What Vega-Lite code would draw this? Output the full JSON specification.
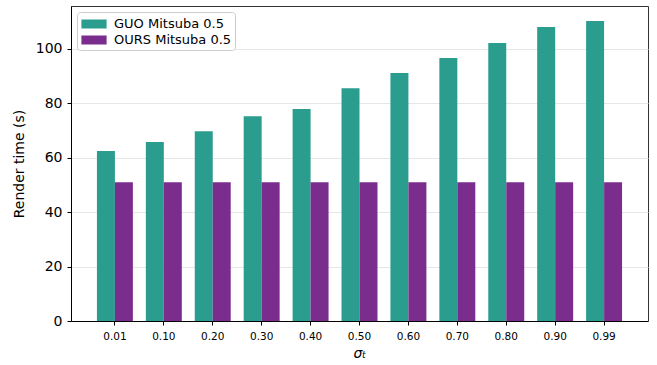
{
  "$schema": "https://vega.github.io/schema/vega-lite/v6.json",
  "autosize": "none",
  "width": 577,
  "height": 315,
  "padding": {"left": 71, "top": 6, "right": 9, "bottom": 44},
  "background": "white",
  "config": {
    "font": "DejaVu Sans",
    "view": {"stroke": "#333333", "strokeWidth": 1}
  },
  "data": {
    "values": [
      {"sigma": "0.01", "method": "GUO Mitsuba 0.5", "time": 62.5},
      {"sigma": "0.10", "method": "GUO Mitsuba 0.5", "time": 65.8},
      {"sigma": "0.20", "method": "GUO Mitsuba 0.5", "time": 69.8},
      {"sigma": "0.30", "method": "GUO Mitsuba 0.5", "time": 75.3},
      {"sigma": "0.40", "method": "GUO Mitsuba 0.5", "time": 77.9},
      {"sigma": "0.50", "method": "GUO Mitsuba 0.5", "time": 85.6},
      {"sigma": "0.60", "method": "GUO Mitsuba 0.5", "time": 91.2},
      {"sigma": "0.70", "method": "GUO Mitsuba 0.5", "time": 96.7},
      {"sigma": "0.80", "method": "GUO Mitsuba 0.5", "time": 102.2},
      {"sigma": "0.90", "method": "GUO Mitsuba 0.5", "time": 108.1},
      {"sigma": "0.99", "method": "GUO Mitsuba 0.5", "time": 110.3},
      {"sigma": "0.01", "method": "OURS Mitsuba 0.5", "time": 51.0},
      {"sigma": "0.10", "method": "OURS Mitsuba 0.5", "time": 51.0},
      {"sigma": "0.20", "method": "OURS Mitsuba 0.5", "time": 51.0},
      {"sigma": "0.30", "method": "OURS Mitsuba 0.5", "time": 51.0},
      {"sigma": "0.40", "method": "OURS Mitsuba 0.5", "time": 51.0},
      {"sigma": "0.50", "method": "OURS Mitsuba 0.5", "time": 51.0},
      {"sigma": "0.60", "method": "OURS Mitsuba 0.5", "time": 51.0},
      {"sigma": "0.70", "method": "OURS Mitsuba 0.5", "time": 51.0},
      {"sigma": "0.80", "method": "OURS Mitsuba 0.5", "time": 51.0},
      {"sigma": "0.90", "method": "OURS Mitsuba 0.5", "time": 51.0},
      {"sigma": "0.99", "method": "OURS Mitsuba 0.5", "time": 51.0}
    ]
  },
  "mark": {"type": "bar"},
  "encoding": {
    "x": {
      "field": "sigma",
      "type": "nominal",
      "sort": null,
      "scale": {"paddingInner": 0.265, "paddingOuter": 0.53},
      "axis": {
        "title": "σₜ",
        "titleFont": "DejaVu Sans",
        "titleFontStyle": "italic",
        "titleFontWeight": "normal",
        "titleFontSize": 14,
        "titleColor": "#000000",
        "titlePadding": 5,
        "labelAngle": 0,
        "labelFontSize": 10.5,
        "labelColor": "#000000",
        "labelPadding": 6,
        "tickColor": "#000000",
        "tickSize": 4,
        "domainColor": "#000000",
        "grid": false
      }
    },
    "xOffset": {"field": "method", "type": "nominal", "sort": null},
    "y": {
      "field": "time",
      "type": "quantitative",
      "scale": {"domain": [0, 115.8], "nice": false},
      "axis": {
        "title": "Render time (s)",
        "titleFontWeight": "normal",
        "titleFontSize": 14,
        "titleColor": "#000000",
        "titlePadding": 9,
        "values": [0, 20, 40, 60, 80, 100],
        "labelFontSize": 14,
        "labelColor": "#000000",
        "labelPadding": 5,
        "tickColor": "#000000",
        "tickSize": 4,
        "domainColor": "#000000",
        "grid": true,
        "gridColor": "#e6e6e6",
        "gridWidth": 1
      }
    },
    "color": {
      "field": "method",
      "type": "nominal",
      "sort": null,
      "scale": {"range": ["#2a9d8e", "#7b2d8e"]},
      "legend": {
        "title": null,
        "orient": "none",
        "legendX": 6,
        "legendY": 6,
        "padding": 3,
        "fillColor": "white",
        "strokeColor": "#cccccc",
        "cornerRadius": 3,
        "labelFontSize": 13,
        "labelColor": "#000000",
        "symbolType": "M-1.4,-0.5H1.4V0.5H-1.4Z",
        "symbolSize": 324,
        "symbolOffset": 5,
        "symbolStrokeWidth": 0,
        "symbolOpacity": 1,
        "rowPadding": 0,
        "labelOffset": 11
      }
    }
  }
}
